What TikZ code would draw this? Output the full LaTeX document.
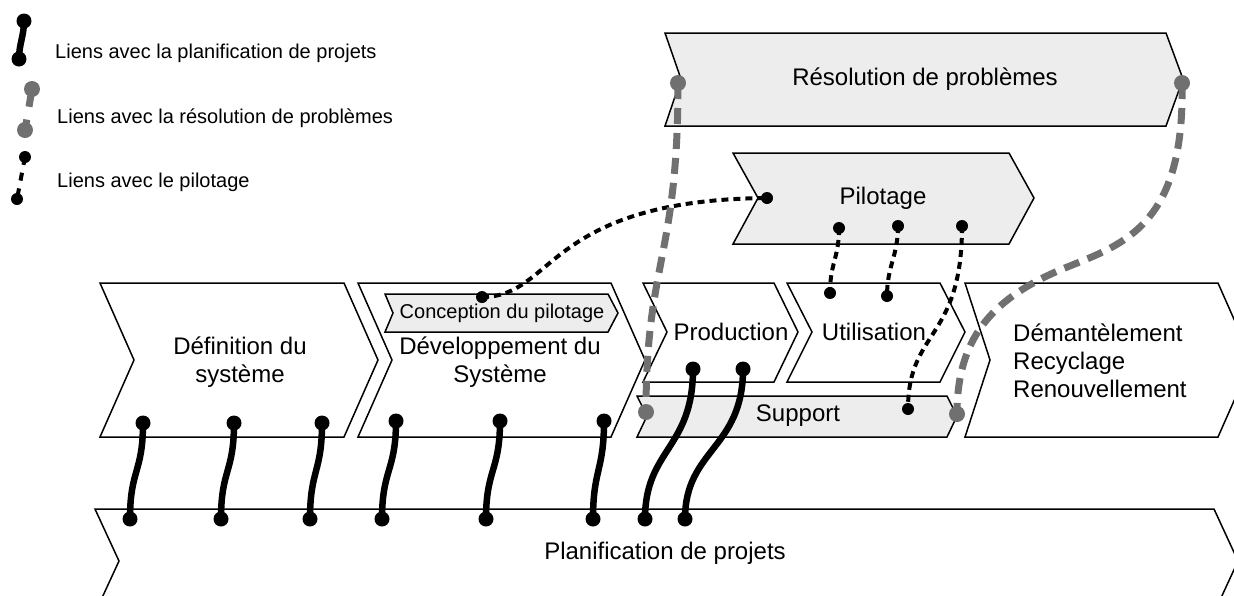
\documentclass[tikz,border=0pt]{standalone}
\usepackage{fontspec}
\setmainfont{Liberation Sans}
\definecolor{panel}{HTML}{EDEDED}
\definecolor{resgray}{HTML}{707070}
\tikzset{
  stage/.style={draw=black, line width=1.5pt, fill=white, line join=miter},
  panelstage/.style={stage, fill=panel},
  biglabel/.style={font=\fontsize{24}{28}\selectfont, align=center, inner sep=0pt},
  midlabel/.style={font=\fontsize{20}{24}\selectfont, align=center, inner sep=0pt},
  legendlabel/.style={font=\fontsize{20}{24}\selectfont, inner sep=0pt, anchor=base west},
  planlink/.style={line width=6.5pt, black},
  reslink/.style={line width=7pt, resgray, dash pattern=on 16pt off 9pt},
  pilotlink/.style={line width=4pt, black, dash pattern=on 7pt off 5pt},
}
\newcommand\plandot[1]{\fill[black] (#1) circle (7.5pt);}
\newcommand\resdot[1]{\fill[resgray] (#1) circle (8pt);}
\newcommand\pilotdot[1]{\fill[black] (#1) circle (6pt);}

\begin{document}
\begin{tikzpicture}[x=1pt,y=-1pt]
\useasboundingbox (0,0) rectangle (1234,595);

% ---- stages -------------------------------------------------------------
\draw[stage] (95,509) -- (1214,509) -- (1238,561) -- (1214,613) -- (95,613) -- (119,561) -- cycle;
\draw[stage] (100,283) -- (344,283) -- (378,360) -- (344,437) -- (100,437) -- (134,360) -- cycle;
\draw[stage] (358,283) -- (611,283) -- (645,360) -- (611,437) -- (358,437) -- (392,360) -- cycle;
\draw[panelstage] (385,294) -- (608,294) -- (618,313) -- (608,332) -- (385,332) -- (393,313) -- cycle;
\draw[stage] (643,283) -- (774,283) -- (798,332) -- (774,382) -- (643,382) -- (667,332) -- cycle;
\draw[stage] (787,283) -- (940,283) -- (965,332) -- (940,382) -- (787,382) -- (812,332) -- cycle;
\draw[panelstage] (637,396) -- (947,396) -- (957,416) -- (947,437) -- (637,437) -- (647,416) -- cycle;
\draw[stage] (965,283) -- (1218,283) -- (1252,360) -- (1218,437) -- (965,437) -- (990,360) -- cycle;
\draw[panelstage] (665,33) -- (1166,33) -- (1183,79) -- (1166,126) -- (665,126) -- (681,79) -- cycle;
\draw[panelstage] (733,153) -- (1009,153) -- (1034,198) -- (1009,244) -- (733,244) -- (758,198) -- cycle;

% ---- stage labels ---------------------------------------------------------
\node[biglabel] (plan) at (665,553) {Planification de projets};
\node[biglabel] (def) at (240,362) {Définition du\\système};
\node[biglabel] (dev) at (500,362) {Développement du\\Système};
\node[midlabel] (conc) at (502,313) {Conception du pilotage};
\node[biglabel] (prod) at (731,332) {Production};
\node[biglabel] (util) at (874,332) {Utilisation};
\node[biglabel] (supp) at (798,416) {Support};
\node[biglabel, align=left, anchor=west] (dem) at (1013,361) {Démantèlement\\Recyclage\\Renouvellement};
\node[biglabel] (res) at (925,79) {Résolution de problèmes};
\node[biglabel] (pil) at (883,198) {Pilotage};

% ---- legend -------------------------------------------------------------
\node[legendlabel] (lgplan) at (55,58) {Liens avec la planification de projets};
\node[legendlabel] (lgres) at (57,123) {Liens avec la résolution de problèmes};
\node[legendlabel] (lgpil) at (57,187) {Liens avec le pilotage};

\coordinate (lpa) at (24,21);  \coordinate (lpb) at (19,59);
\coordinate (lra) at (32,89);  \coordinate (lrb) at (25,130);
\coordinate (lia) at (25,157); \coordinate (lib) at (17,199);
\draw[planlink] (lpa) .. controls +(0,15) and +(0,-15) .. (lpb);
\draw[reslink, dash pattern=on 18pt off 13pt] (lra) -- (lrb);
\draw[pilotlink, dash pattern=on 8pt off 8pt] (lia) -- (lib);
\plandot{lpa} \plandot{lpb}
\resdot{lra} \resdot{lrb}
\pilotdot{lia} \pilotdot{lib}

% ---- link anchors ---------------------------------------------------------
\coordinate (t1) at (143,423); \coordinate (b1) at (130,519);
\coordinate (t2) at (234,423); \coordinate (b2) at (221,519);
\coordinate (t3) at (322,423); \coordinate (b3) at (310,519);
\coordinate (t4) at (396,421); \coordinate (b4) at (382,519);
\coordinate (t5) at (500,421); \coordinate (b5) at (486,519);
\coordinate (t6) at (604,421); \coordinate (b6) at (593,519);
\coordinate (t7) at (693,369); \coordinate (b7) at (645,519);
\coordinate (t8) at (743,369); \coordinate (b8) at (685,519);

\coordinate (pc) at (482,297);
\coordinate (p0) at (767,198);
\coordinate (p1) at (839,228); \coordinate (u1) at (830,293);
\coordinate (p2) at (898,226); \coordinate (u2) at (887,296);
\coordinate (p3) at (962,226); \coordinate (s1) at (908,409);

\coordinate (rl) at (678,83);  \coordinate (sl) at (646,412);
\coordinate (rr) at (1182,83); \coordinate (sr) at (957,414);
\coordinate (rbend) at (1060,270);

% ---- pilotage links -------------------------------------------------------
\draw[pilotlink] (pc) .. controls +(73,0) and +(-222,2) .. (p0);
\draw[pilotlink] (p1) .. controls +(0,30) and +(0,-30) .. (u1);
\draw[pilotlink] (p2) .. controls +(0,30) and +(0,-30) .. (u2);
\draw[pilotlink] (p3) .. controls +(0,115) and +(0,-80) .. (s1);

% ---- problem solving links ------------------------------------------------
\draw[reslink] (rl) .. controls +(0,175) and +(0,-150) .. (sl);
\draw[reslink] (rr) .. controls (1185,230) and (1120,245) .. (rbend)
               .. controls (990,300) and (957,340) .. (sr);

% ---- planning links -------------------------------------------------------
\foreach \i in {1,...,6}
  \draw[planlink] (t\i) .. controls +(0,50) and +(0,-50) .. (b\i);
\foreach \i in {7,8}
  \draw[planlink] (t\i) .. controls +(0,80) and +(0,-70) .. (b\i);

% ---- end dots -------------------------------------------------------------
\foreach \i in {1,...,8} {\plandot{t\i} \plandot{b\i}}
\foreach \c in {pc,p0,p1,u1,p2,u2,p3,s1} {\pilotdot{\c}}
\foreach \c in {rl,sl,rr,sr} {\resdot{\c}}
\end{tikzpicture}
\end{document}
